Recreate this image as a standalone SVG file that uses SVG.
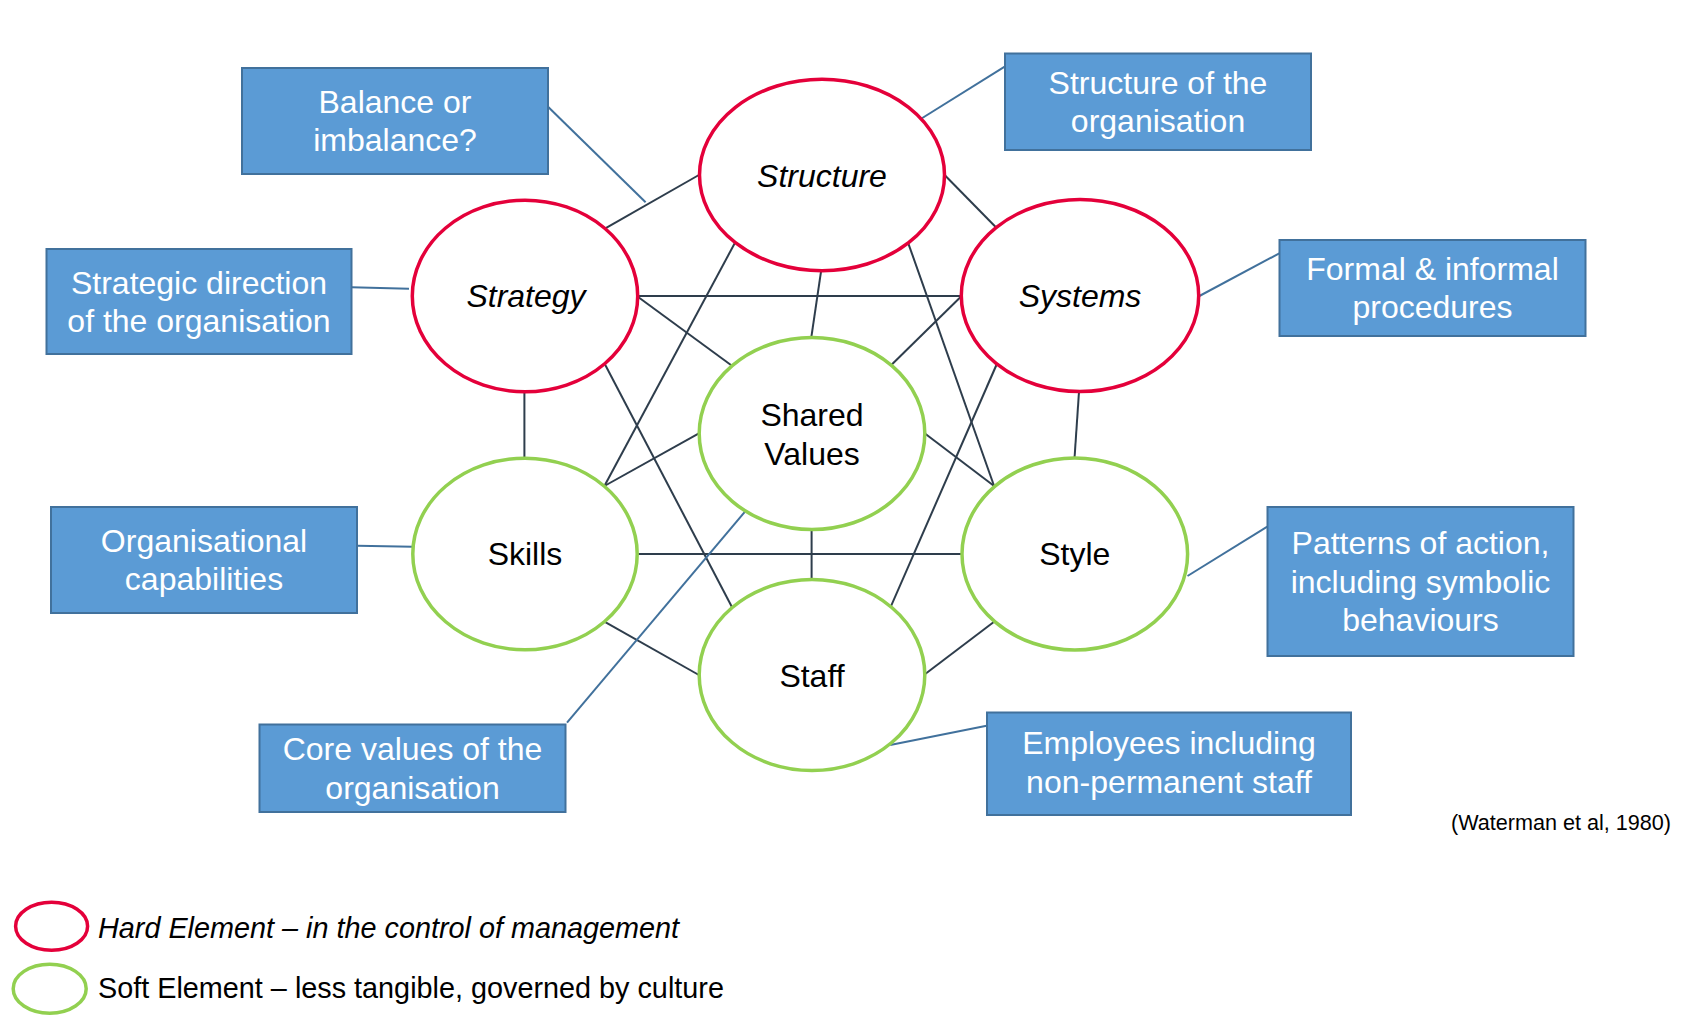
<svg xmlns="http://www.w3.org/2000/svg" width="1692" height="1028" viewBox="0 0 1692 1028">
<style>
.box{fill:#5B9BD5;stroke:#41719C;stroke-width:2}
.bt{font-family:"Liberation Sans",Arial,sans-serif;font-size:32px;fill:#fff;text-anchor:middle}
.nt{font-family:"Liberation Sans",Arial,sans-serif;font-size:32px;fill:#000;text-anchor:middle}
.it{font-style:italic}
.hard{fill:#fff;stroke:#E4003A;stroke-width:3.5}
.soft{fill:#fff;stroke:#92D050;stroke-width:3.5}
.c line{stroke:#2E3D4C;stroke-width:2}
.cb line{stroke:#41719C;stroke-width:2}
.lg{font-family:"Liberation Sans",Arial,sans-serif;font-size:28.8px;fill:#000}
</style>
<rect width="1692" height="1028" fill="#fff"/>
<g id="connectors">
<g class="c">
<line x1="605.3" y1="228.3" x2="698.9" y2="175"/>
<line x1="944.6" y1="175" x2="996.4" y2="227.7"/>
<line x1="637.8" y1="296" x2="961.6" y2="296"/>
<line x1="637.8" y1="296.7" x2="732.3" y2="366"/>
<line x1="961.6" y1="296" x2="891.3" y2="365"/>
<line x1="821" y1="271.7" x2="811.3" y2="337.3"/>
<line x1="524.4" y1="391.7" x2="524.4" y2="458.3"/>
<line x1="1079" y1="391.7" x2="1074.5" y2="458.3"/>
<line x1="734.7" y1="243.3" x2="604.4" y2="486"/>
<line x1="908.3" y1="243.3" x2="994.1" y2="486"/>
<line x1="605.3" y1="365" x2="731.8" y2="606.7"/>
<line x1="996.4" y1="365" x2="890.8" y2="606.7"/>
<line x1="604.4" y1="486" x2="698.9" y2="433.3"/>
<line x1="924.6" y1="433.3" x2="994.1" y2="486"/>
<line x1="637.3" y1="554" x2="962" y2="554"/>
<line x1="811.6" y1="529.3" x2="811.6" y2="579"/>
<line x1="604.4" y1="621.7" x2="698.9" y2="675"/>
<line x1="925.2" y1="674" x2="994.1" y2="621.7"/>
</g>
<g class="cb">
<line x1="548" y1="106.7" x2="645.6" y2="202.3"/>
<line x1="1004.7" y1="66.7" x2="920.7" y2="119"/>
<line x1="351.4" y1="287.3" x2="409" y2="288.7"/>
<line x1="1279.3" y1="253.3" x2="1199.4" y2="296"/>
<line x1="357.2" y1="545.7" x2="412.9" y2="546.7"/>
<line x1="567" y1="722.7" x2="745" y2="511.7"/>
<line x1="1267.3" y1="526.7" x2="1187.5" y2="576"/>
<line x1="986.6" y1="725.7" x2="890.2" y2="745"/>
</g>
</g>
<g id="structure"><ellipse class="hard" cx="822" cy="175" rx="122.5" ry="95.7"/><text class="nt it" x="822" y="187">Structure</text></g>
<g id="strategy"><ellipse class="hard" cx="525" cy="296" rx="112.7" ry="95.8"/><text class="nt it" x="526" y="307">Strategy</text></g>
<g id="systems"><ellipse class="hard" cx="1080" cy="295.5" rx="118.7" ry="96"/><text class="nt it" x="1080" y="307">Systems</text></g>
<g id="shared-values"><ellipse class="soft" cx="812" cy="433.5" rx="112.8" ry="96"/><text class="nt" x="812" y="426">Shared</text><text class="nt" x="812" y="465">Values</text></g>
<g id="skills"><ellipse class="soft" cx="525" cy="554" rx="112.2" ry="95.8"/><text class="nt" x="525" y="565">Skills</text></g>
<g id="style"><ellipse class="soft" cx="1074.8" cy="554" rx="112.8" ry="96"/><text class="nt" x="1074.8" y="565">Style</text></g>
<g id="staff"><ellipse class="soft" cx="812" cy="675" rx="112.8" ry="95.5"/><text class="nt" x="812" y="687">Staff</text></g>
<g id="box-balance"><rect class="box" x="242" y="68" width="306" height="106"/><text class="bt" x="395" y="113">Balance or</text><text class="bt" x="395" y="151">imbalance?</text></g>
<g id="box-structure"><rect class="box" x="1005" y="53.5" width="306" height="96.5"/><text class="bt" x="1158" y="93.5">Structure of the</text><text class="bt" x="1158" y="131.5">organisation</text></g>
<g id="box-strategy"><rect class="box" x="46.5" y="249" width="305" height="105"/><text class="bt" x="199" y="293.5">Strategic direction</text><text class="bt" x="199" y="332">of the organisation</text></g>
<g id="box-systems"><rect class="box" x="1279.5" y="240" width="306" height="96"/><text class="bt" x="1432.5" y="279.5">Formal &amp; informal</text><text class="bt" x="1432.5" y="317.5">procedures</text></g>
<g id="box-skills"><rect class="box" x="51" y="507" width="306" height="106"/><text class="bt" x="204" y="552">Organisational</text><text class="bt" x="204" y="590">capabilities</text></g>
<g id="box-style"><rect class="box" x="1267.5" y="507" width="306" height="149"/><text class="bt" x="1420.5" y="553.5">Patterns of action,</text><text class="bt" x="1420.5" y="592.5">including symbolic</text><text class="bt" x="1420.5" y="630.5">behaviours</text></g>
<g id="box-shared"><rect class="box" x="259.5" y="724.5" width="306" height="87.5"/><text class="bt" x="412.5" y="760">Core values of the</text><text class="bt" x="412.5" y="798.5">organisation</text></g>
<g id="box-staff"><rect class="box" x="987" y="712.5" width="364" height="102.5"/><text class="bt" x="1169" y="754">Employees including</text><text class="bt" x="1169" y="793">non-permanent staff</text></g>
<text x="1671" y="830" font-family="Liberation Sans,Arial,sans-serif" font-size="21.6" text-anchor="end" fill="#000">(Waterman et al, 1980)</text>
<g id="legend">
<ellipse cx="51.6" cy="926.3" rx="36" ry="24" fill="none" stroke="#E4003A" stroke-width="3.5"/>
<ellipse cx="49.7" cy="988.7" rx="36.5" ry="24.5" fill="none" stroke="#92D050" stroke-width="3.5"/>
<text class="lg it" x="98" y="937.5">Hard Element – in the control of management</text>
<text class="lg" x="98" y="998">Soft Element – less tangible, governed by culture</text>
</g>
</svg>
